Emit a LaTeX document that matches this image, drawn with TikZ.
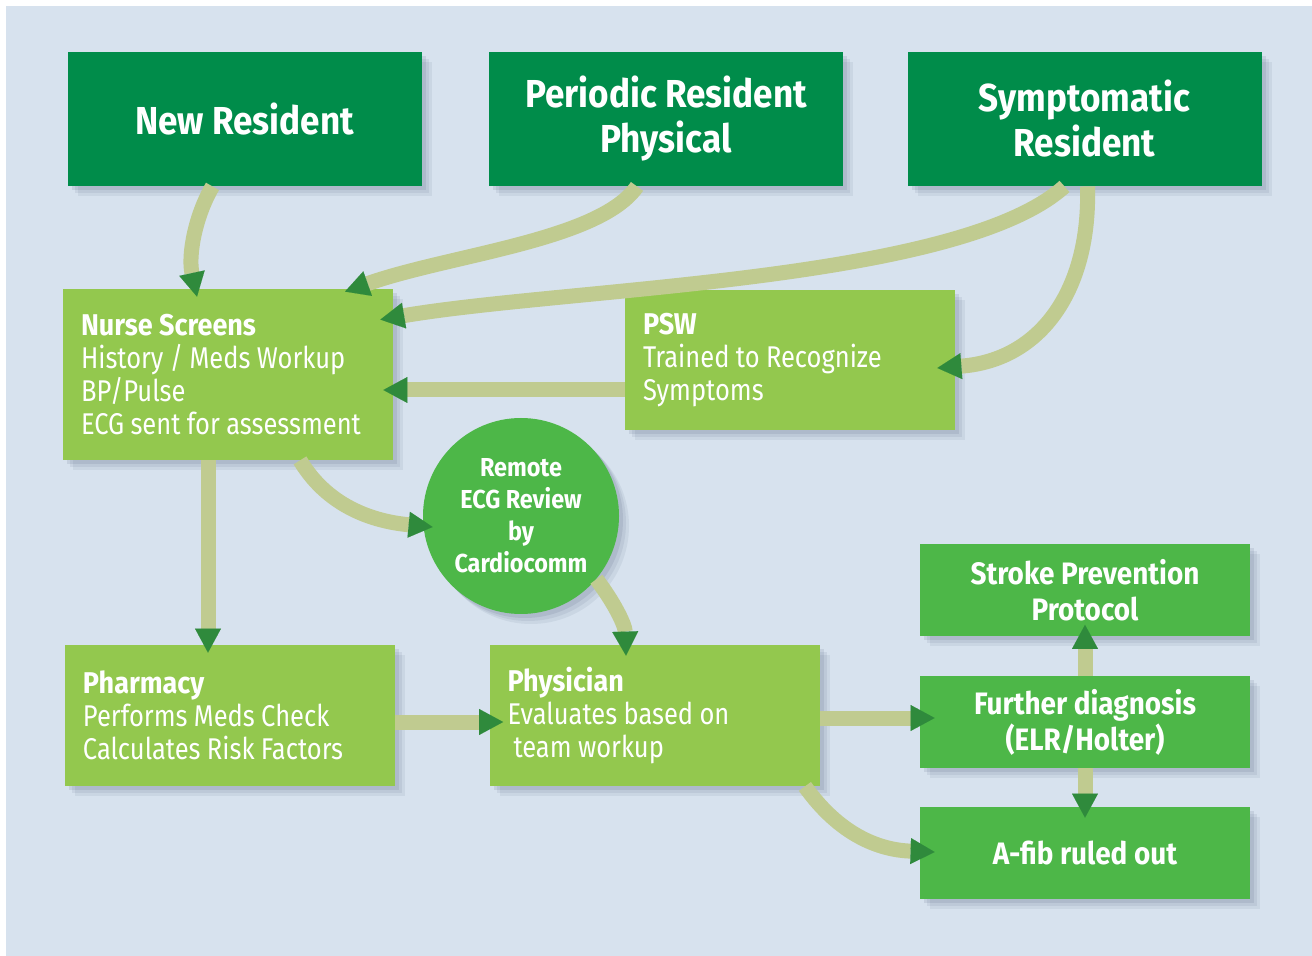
\documentclass[tikz,border=0pt]{standalone}
\usepackage{fontspec}
\setmainfont{Fira Sans}[FakeStretch=0.85,BoldFeatures={FakeStretch=0.9}]
\usetikzlibrary{arrows.meta,calc,shadows}

\definecolor{bgblue}{HTML}{D7E2EE}
\definecolor{darkgreen}{HTML}{008C4A}
\definecolor{lightgreen}{HTML}{93C84E}
\definecolor{midgreen}{HTML}{4DB748}
\definecolor{tipgreen}{HTML}{2F8A3C}
\definecolor{bandgreen}{HTML}{C0CB90}
\definecolor{shadowblue}{HTML}{2A3A5A}

\newcommand{\boxhead}[1]{{\bfseries\fontsize{15}{16.5}\selectfont #1}}

\begin{document}
\begin{tikzpicture}[x=0.5pt,y=-0.5pt,
  boxshadow/.style={
    general shadow={fill=shadowblue,opacity=.07,shadow xshift=5pt,shadow yshift=-5pt},
    general shadow={fill=shadowblue,opacity=.08,shadow xshift=3.5pt,shadow yshift=-3.5pt},
    general shadow={fill=shadowblue,opacity=.1,shadow xshift=2pt,shadow yshift=-2pt}},
  topbox/.style={rectangle,fill=darkgreen,text=white,align=center,boxshadow,
    minimum width=177pt,minimum height=67pt,font=\bfseries\fontsize{19.5}{22.5}\selectfont},
  stepbox/.style={rectangle,fill=lightgreen,text=white,align=left,boxshadow,
    text width=147pt,inner xsep=9pt,minimum width=165pt,font=\fontsize{15}{16.5}\selectfont,
    execute at begin node={\spaceskip=3.2pt plus 1pt minus .5pt\relax}},
  endbox/.style={rectangle,fill=midgreen,text=white,align=center,boxshadow,
    minimum width=165pt,minimum height=46pt,font=\bfseries\fontsize{15.5}{18}\selectfont},
  link/.style={line width=7.5pt,draw=bandgreen,
    -{Triangle[width=13pt,length=12pt,line width=0.01pt,color=tipgreen]}}]
  \useasboundingbox (0,0) rectangle (1312,956);
  \fill[white] (0,0) rectangle (1312,956);
  \fill[bgblue] (6,6) rectangle (1312,956);

  \node[topbox] (newres) at (244.5,119) {New Resident};
  \node[topbox] (periodic) at (666,119) {Periodic Resident\\Physical};
  \node[topbox] (sympt) at (1084.5,119) {Symptomatic\\Resident};

  \node[stepbox,minimum height=85.5pt] (nurse) at (228,374.5)
    {\boxhead{Nurse Screens}\\History / Meds Workup\\BP/Pulse\\ECG sent for assessment};
  \node[stepbox,minimum height=70pt] (psw) at (790,360)
    {\boxhead{PSW}\\Trained to Recognize\\Symptoms};
  \node[circle,fill=midgreen,text=white,align=center,boxshadow,minimum size=98pt,inner sep=0pt,
    font=\bfseries\fontsize{13}{16}\selectfont] (remote) at (521,516)
    {Remote\\ECG Review\\by\\Cardiocomm};
  \node[stepbox,minimum height=70.5pt] (pharm) at (230,715.5)
    {\boxhead{Pharmacy}\\Performs Meds Check\\Calculates Risk Factors};
  \node[stepbox,minimum height=70.5pt] (phys) at (654.5,715.5)
    {\boxhead{Physician}\\Evaluates based on\\\hspace{3pt}team workup};

  \node[endbox] (stroke) at (1085,590.5) {Stroke Prevention\\Protocol};
  \node[endbox] (further) at (1085,722) {Further diagnosis\\(ELR/Holter)};
  \node[endbox] (afib) at (1085,853) {A-fib ruled out};

  \draw[link] ($(newres.south)+(-32,0)$) .. controls +(-17,29) and +(-9,-42) .. ($(nurse.north)+(-31,8)$);
  \draw[link] ($(periodic.south)+(-29,0)$) .. controls +(-37,54) and +(105,-37) .. ($(nurse.north)+(117,3)$);
  \draw[link] ($(sympt.south)+(-20,0)$) .. controls +(-105,95) and +(190,-32) .. ($(nurse.north east)+(-13,31)$);
  \draw[link] ($(sympt.south)+(3,0)$) .. controls +(3,104) and +(103,-8) .. ($(psw.east)+(-18,8)$);
  \draw[link] ($(psw.west)+(0,30)$) -- ($(nurse.east)+(-10,15.5)$);
  \draw[link] ($(nurse.south)+(72,0)$) .. controls +(30,50) and +(-53,-5) .. ($(remote.west)+(10,11)$);
  \draw[link] ($(nurse.south)+(-20,0)$) -- ($(pharm.north)+(-22,8)$);
  \draw[link] (remote.-40) .. controls +(17,22) and +(-1,-31) .. ($(phys.north)+(-28.5,11)$);
  \draw[link] ($(pharm.east)+(0,6.5)$) -- ($(phys.west)+(14,6.5)$);
  \draw[link] ($(phys.east)+(0,2.5)$) -- ($(further.west)+(15,-4)$);
  \draw[link] ($(phys.south east)+(-15,0)$) .. controls +(35,49) and +(-55,-2) .. ($(afib.west)+(15,-1)$);
  \draw[link] (further.north) -- ($(stroke.south)+(0,-12)$);
  \draw[link] (further.south) -- ($(afib.north)+(0,11)$);
\end{tikzpicture}
\end{document}
